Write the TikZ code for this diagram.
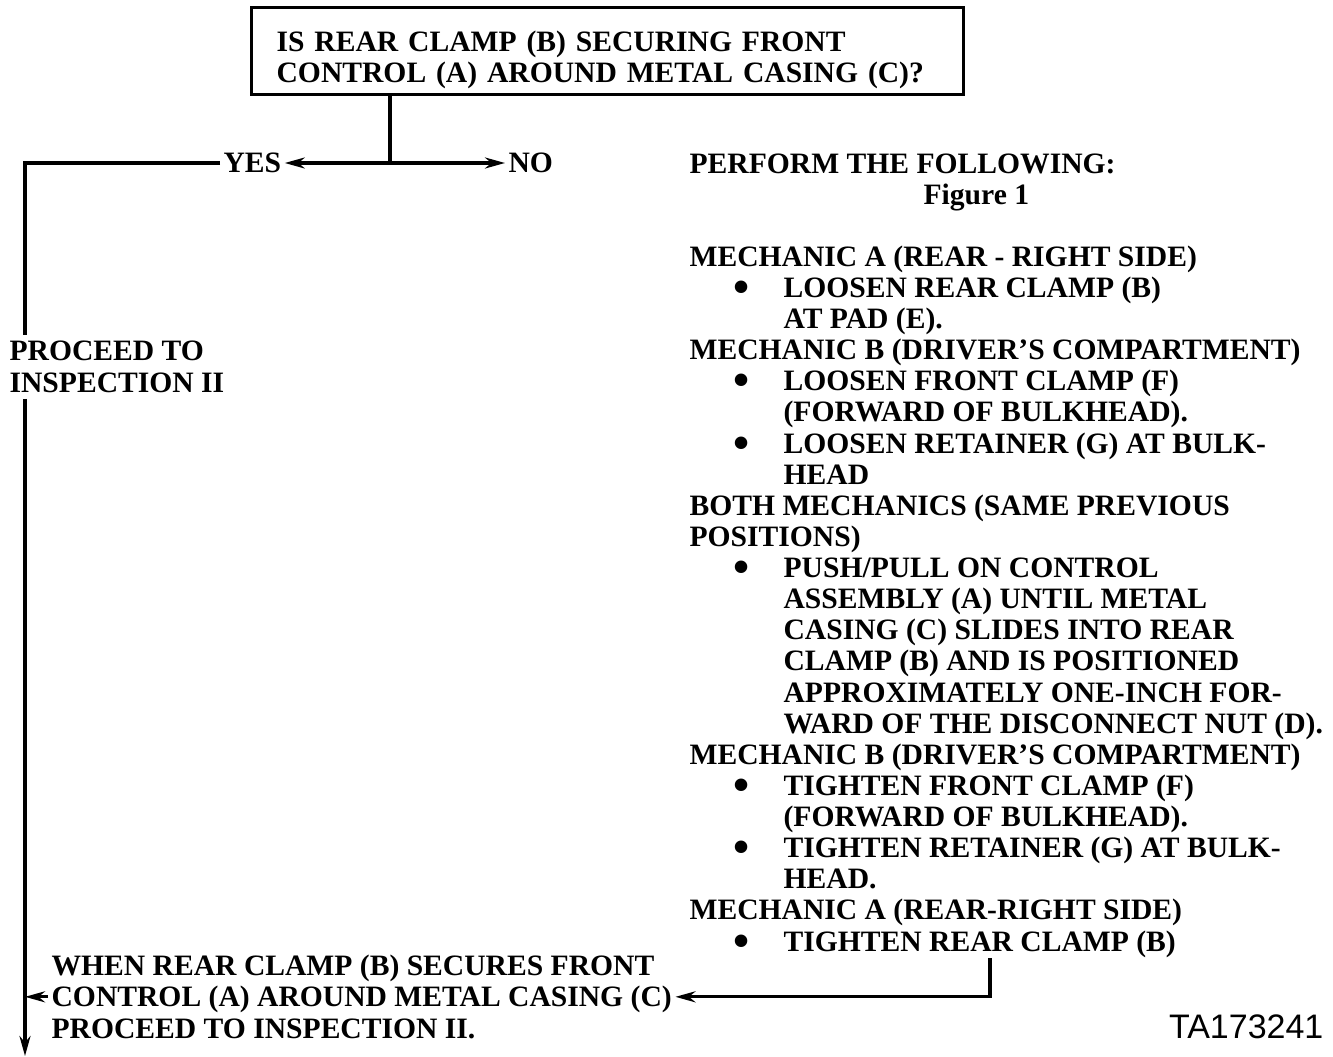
\documentclass[tikz,border=0pt]{standalone}
\usepackage{fontspec}
\setmainfont{Liberation Serif}
\newfontfamily\tafont{Liberation Sans}
\usetikzlibrary{arrows.meta}

\newcommand{\stepbullet}{\makebox[94pt][l]{\hspace{44pt}\smash{\raisebox{-5pt}{\fontsize{46}{31.12}\selectfont\textbullet}}}}
\newcommand{\stepindent}{\hspace*{94pt}}

\begin{document}
\begin{tikzpicture}[x=1pt, y=-1pt, line width=3.2pt, >={Stealth[length=20pt,width=11pt]},
    txt/.style={font=\bfseries\fontsize{29.6}{31.12}\selectfont, inner sep=0pt, align=left}]
    \useasboundingbox (0,0) rectangle (1333,1057);
    % question box
    \node[txt, draw, anchor=north west, inner xsep=25pt, text width=662pt] (question) at (250,6)
        {\rule{0pt}{44pt}IS REAR CLAMP (B) SECURING FRONT\\
         CONTROL (A) AROUND METAL CASING (C)?\rule[-12pt]{0pt}{12pt}};
    \coordinate (fork) at (390,163);
    \coordinate (corner) at (25,163);
    \coordinate (exit) at (25,1056);
    \coordinate (tighten) at (990,958);
    \node[txt, anchor=west, inner sep=2pt] (yes) at (220,163) {YES};
    \node[txt, anchor=west, inner sep=2pt] (no) at (505,163) {NO};
    \node[txt, anchor=base west, inner sep=5pt] (proceed) at (3,392) {PROCEED TO\\INSPECTION II};
    % steps on the right
    \node[txt, anchor=base west] (steps) at (688,951) {PERFORM THE FOLLOWING:\\
        \hspace*{234pt}Figure 1\\
        \mbox{}\\
        MECHANIC A (REAR - RIGHT SIDE)\\
        \stepbullet LOOSEN REAR CLAMP (B)\\
        \stepindent AT PAD (E).\\
        MECHANIC B (DRIVER'S COMPARTMENT)\\
        \stepbullet LOOSEN FRONT CLAMP (F)\\
        \stepindent (FORWARD OF BULKHEAD).\\
        \stepbullet LOOSEN RETAINER (G) AT BULK-\\
        \stepindent HEAD\\
        BOTH MECHANICS (SAME PREVIOUS\\
        POSITIONS)\\
        \stepbullet PUSH/PULL ON CONTROL\\
        \stepindent ASSEMBLY (A) UNTIL METAL\\
        \stepindent CASING (C) SLIDES INTO REAR\\
        \stepindent CLAMP (B) AND IS POSITIONED\\
        \stepindent APPROXIMATELY ONE-INCH FOR-\\
        \stepindent WARD OF THE DISCONNECT NUT (D).\\
        MECHANIC B (DRIVER'S COMPARTMENT)\\
        \stepbullet TIGHTEN FRONT CLAMP (F)\\
        \stepindent (FORWARD OF BULKHEAD).\\
        \stepbullet TIGHTEN RETAINER (G) AT BULK-\\
        \stepindent HEAD.\\
        MECHANIC A (REAR-RIGHT SIDE)\\
        \stepbullet TIGHTEN REAR CLAMP (B)};
    \node[txt, anchor=base west, inner sep=2pt] (when) at (48,1038) {WHEN REAR CLAMP (B) SECURES FRONT\\
        CONTROL (A) AROUND METAL CASING (C)\\
        PROCEED TO INSPECTION II.};
    \node[font=\tafont\fontsize{34}{36}\selectfont, anchor=base east, inner sep=0pt] (tanum) at (1325,1038) {TA173241};
    % connectors
    \draw (question.south -| fork) -- (fork);
    \draw[->] (fork) -- (yes.east);
    \draw[->] (fork) -- (no.west);
    \draw (yes.west) -- (corner) -- (proceed.north -| corner);
    \draw[->] (proceed.south -| corner) -- (exit);
    \draw[->] (when.west) -- (when.west -| corner);
    \draw[->] (tighten) |- (when.east);
\end{tikzpicture}
\end{document}
